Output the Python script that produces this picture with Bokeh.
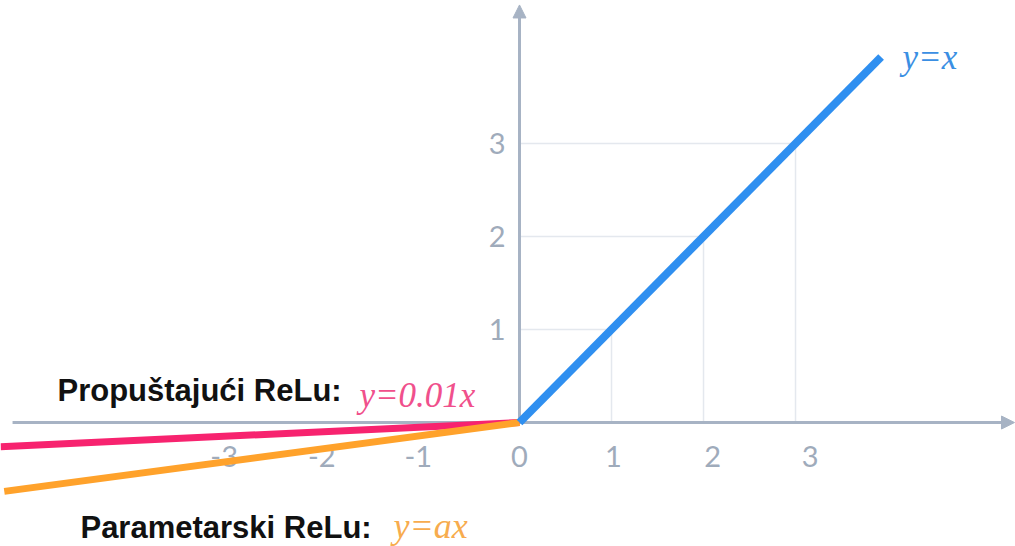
from bokeh.plotting import figure
from bokeh.models import Label, Arrow, NormalHead, ColumnDataSource, Range1d
from bokeh.core.properties import value
from bokeh.embed import file_html
from bokeh.resources import INLINE

# ---- data ----
relu_x = [0, 3.93]
relu_y = [0, 3.93]
leaky_x = [-5.64, 0]
leaky_y = [-0.26, 0]
param_x = [-5.6, 0]
param_y = [-0.74, 0]

x_tick_pos = [-3.21, -2.15, -1.10, 0, 1.02, 2.10, 3.16]
x_tick_labels = ["-3", "-2", "-1", "0", "1", "2", "3"]
y_ticks = [1, 2, 3]
y_tick_labels = ["1", "2", "3"]
grid_steps = [1, 2, 3]

AXIS = "#a7b3c4"
GRID = "#e4e8ee"
TICK = "#9fabbb"
BLUE = "#2f8ff0"
PINK = "#f7236f"
ORANGE = "#ffa22b"

p = figure(width=1015, height=546, output_backend="svg", toolbar_location=None,
           x_range=Range1d(-5.641, 5.391), y_range=Range1d(-1.333, 4.538),
           min_border=0)
p.axis.visible = False
p.grid.visible = False
p.outline_line_color = None
p.background_fill_color = "white"

# grid squares below y=x
p.segment(x0=grid_steps, y0=[0]*3, x1=grid_steps, y1=grid_steps, line_color=GRID, line_width=1.5)
p.segment(x0=[0]*3, y0=grid_steps, x1=grid_steps, y1=grid_steps, line_color=GRID, line_width=1.5)

# axes lines
p.segment(x0=[-5.51], y0=[0], x1=[5.3], y1=[0], line_color=AXIS, line_width=3)
p.segment(x0=[0], y0=[0], x1=[0], y1=[4.4], line_color=AXIS, line_width=3)
p.add_layout(Arrow(x_start=5.2, y_start=0, x_end=5.38, y_end=0, line_color=AXIS, line_width=3,
                   end=NormalHead(size=13, fill_color=AXIS, line_color=AXIS)))
p.add_layout(Arrow(x_start=0, y_start=4.3, x_end=0, y_end=4.49, line_color=AXIS, line_width=3,
                   end=NormalHead(size=13, fill_color=AXIS, line_color=AXIS)))

# tick labels
xs = ColumnDataSource(dict(x=x_tick_pos, y=[-0.37]*len(x_tick_pos), t=x_tick_labels))
p.text(x="x", y="y", text="t", source=xs, text_align="center", text_baseline="middle",
       text_font=value("Lato"), text_font_size="29px", text_color=TICK)
ys = ColumnDataSource(dict(x=[0]*len(y_ticks), y=y_ticks, t=y_tick_labels))
p.text(x="x", y="y", text="t", source=ys, x_offset=-14, text_align="right", text_baseline="middle",
       text_font=value("Lato"), text_font_size="29px", text_color=TICK)

# function lines
p.line(leaky_x, leaky_y, line_color=PINK, line_width=7, line_cap="butt")
p.line(param_x, param_y, line_color=ORANGE, line_width=7, line_cap="butt")
p.line(relu_x, relu_y, line_color=BLUE, line_width=8, line_cap="butt")

# labels
bold = dict(text_font="Liberation Sans", text_font_style="bold", text_font_size="31px",
            text_color="#111111", text_baseline="alphabetic")
serif = dict(text_font="Liberation Serif", text_font_style="italic", text_baseline="alphabetic")
p.add_layout(Label(x=-5.022, y=0.34, text="Propuštajući ReLu:", **bold))
p.add_layout(Label(x=-1.74, y=0.29, text="y=0.01x", text_font_size="35px", text_color="#f0508c", **serif))
p.add_layout(Label(x=-4.772, y=-1.125, text="Parametarski ReLu:", **bold))
p.add_layout(Label(x=-1.37, y=-1.115, text="y=ax", text_font_size="36px", text_color="#f7ac4e", **serif))
p.add_layout(Label(x=4.163, y=3.92, text="y=x", text_font_size="35px", text_color="#3b8fe3", **serif))

open("out.html", "w").write(file_html(p, INLINE))
